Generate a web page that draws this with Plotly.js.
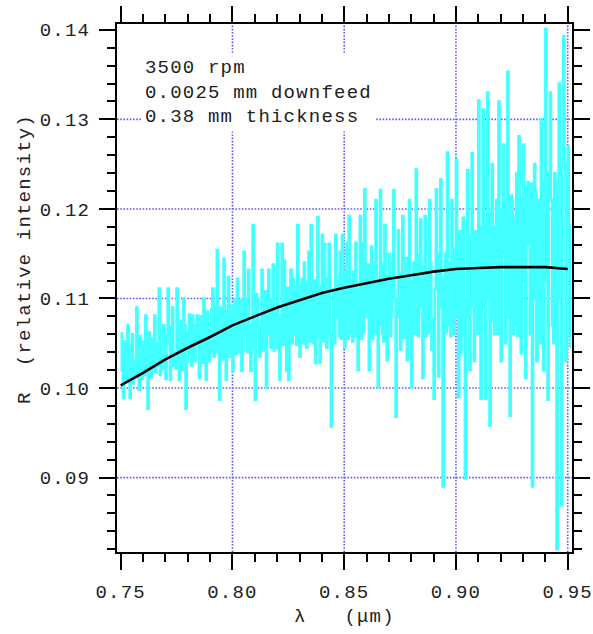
<!DOCTYPE html>
<html>
<head>
<meta charset="utf-8">
<script src="https://cdn.plot.ly/plotly-3.0.1.min.js"></script>
<style>
  html, body { margin: 0; padding: 0; background: #fff; }
  #chart { width: 593px; height: 634px; }
  text { letter-spacing: 1.2px; }
</style>
</head>
<body>
<div id="chart"></div>
<script>
// Measured spectrum: wavelength grid start/step (µm) and relative intensity values.
// measuredR: readings at wlStart + i*wlStep; measuredRMid: readings half a step later.
const wlStart = 0.750;
const wlStep = 0.001;
const measuredR = [
  0.1061, 0.0989, 0.1045, 0.1070, 0.0989, 0.1060, 0.1030, 0.1090, 0.0998, 0.1040,
  0.1052, 0.1081, 0.0977, 0.1030, 0.1055, 0.1081, 0.1050, 0.1111, 0.1047, 0.1070,
  0.1010, 0.1111, 0.1009, 0.1090, 0.1040, 0.1111, 0.1009, 0.1075, 0.1100, 0.0977,
  0.1061, 0.1040, 0.1081, 0.1030, 0.1081, 0.1011, 0.1060, 0.1100, 0.1009, 0.1065,
  0.1040, 0.1111, 0.1090, 0.1154, 0.0987, 0.1070, 0.1144, 0.1009, 0.1124, 0.1060,
  0.1019, 0.1099, 0.1122, 0.1040, 0.1019, 0.1152, 0.1060, 0.1132, 0.1019, 0.1182,
  0.0987, 0.1099, 0.1035, 0.1132, 0.1080, 0.1000, 0.1132, 0.1045, 0.1138, 0.1090,
  0.1161, 0.1009, 0.1161, 0.1142, 0.1019, 0.1009, 0.1132, 0.1122, 0.1060, 0.1182,
  0.1035, 0.1122, 0.1140, 0.1045, 0.1152, 0.1182, 0.1050, 0.1028, 0.1191, 0.1028,
  0.1171, 0.1161, 0.1045, 0.1161, 0.0957, 0.1110, 0.1171, 0.1080, 0.1152, 0.1171,
  0.1045,
  0.1162, 0.1192, 0.1061, 0.1130, 0.1162, 0.1020, 0.1192, 0.1162, 0.1222, 0.1080,
  0.1020, 0.1158, 0.1140, 0.1210, 0.1001, 0.1221, 0.1061, 0.1182, 0.1031, 0.1150,
  0.1080, 0.1221, 0.0968, 0.1176, 0.1043, 0.1192, 0.1100, 0.1031, 0.1210, 0.1001,
  0.1140, 0.1244, 0.1058, 0.1188, 0.1011, 0.1192, 0.1130, 0.1210, 0.1043, 0.0988,
  0.1222, 0.1013, 0.1233, 0.0890, 0.1150, 0.1263, 0.1140, 0.1210, 0.1060, 0.1255,
  0.0990,
  0.1039, 0.1190, 0.0899, 0.1243, 0.1020, 0.1262, 0.1030, 0.1171, 0.1321, 0.0988,
  0.1311, 0.0988, 0.1330, 0.0958, 0.1250, 0.1060, 0.1210, 0.1320, 0.1030, 0.1272,
  0.1050, 0.1353, 0.0969, 0.1210, 0.1070, 0.1240, 0.1281, 0.1039, 0.1272, 0.1011,
  0.1230, 0.1060, 0.0890, 0.1250, 0.1030, 0.1210, 0.1300, 0.1020, 0.1401, 0.0987,
  0.1330, 0.1070, 0.1240, 0.0820, 0.1340, 0.0869, 0.1393, 0.1030, 0.1270, 0.1045
];
const measuredRMid = [
  0.1020, 0.1052, 0.1008, 0.1035, 0.1048, 0.1005, 0.1012, 0.1040, 0.1058, 0.1010,
  0.1015, 0.1040, 0.1062, 0.1012, 0.1020, 0.1018, 0.1025, 0.1015, 0.1022, 0.1060,
  0.1050, 0.1068, 0.1062, 0.1025, 0.1022, 0.1065, 0.1045, 0.1020, 0.1070, 0.1030,
  0.1082, 0.1025, 0.1055, 0.1070, 0.1050, 0.1080, 0.1028, 0.1062, 0.1085, 0.1030,
  0.1088, 0.1035, 0.1040, 0.1075, 0.1090, 0.1032, 0.1085, 0.1050, 0.1035, 0.1092,
  0.1060, 0.1038, 0.1090, 0.1098, 0.1042, 0.1100, 0.1040, 0.1070, 0.1045, 0.1095,
  0.1105, 0.1068, 0.1048, 0.1042, 0.1108, 0.1060, 0.1100, 0.1050, 0.1042, 0.1045,
  0.1080, 0.1060, 0.1048, 0.1110, 0.1112, 0.1068, 0.1050, 0.1112, 0.1048, 0.1115,
  0.1075, 0.1050, 0.1118, 0.1085, 0.1052, 0.1110, 0.1120, 0.1058, 0.1115, 0.1062,
  0.1052, 0.1100, 0.1122, 0.1060, 0.1055, 0.1050, 0.1120, 0.1058, 0.1055, 0.1110,
  0.1130, 0.1055, 0.1120, 0.1052, 0.1058, 0.1110, 0.1068, 0.1055, 0.1062, 0.1135,
  0.1138, 0.1090, 0.1055, 0.1060, 0.1120, 0.1070, 0.1138, 0.1052, 0.1125, 0.1065,
  0.1058, 0.1140, 0.1100, 0.1080, 0.1128, 0.1070, 0.1056, 0.1145, 0.1060, 0.1120,
  0.1080, 0.1060, 0.1148, 0.1090, 0.1135, 0.1075, 0.1058, 0.1062, 0.1140, 0.1078,
  0.1110, 0.1150, 0.1090, 0.1120, 0.1060, 0.1062, 0.1070, 0.1058, 0.1155, 0.1080,
  0.1120, 0.1175, 0.1060, 0.1100, 0.1080, 0.1170, 0.1090, 0.1150, 0.1175, 0.1060,
  0.1150, 0.1180, 0.1090, 0.1190, 0.1100, 0.1195, 0.1075, 0.1180, 0.1060, 0.1170,
  0.1200, 0.1150, 0.1210, 0.1080, 0.1215, 0.1060, 0.1190, 0.1058, 0.1150, 0.1210,
  0.1120, 0.1225, 0.1160, 0.1228, 0.1100, 0.1220, 0.1055, 0.1050, 0.1230, 0.1180,
  0.1120, 0.1240, 0.1210, 0.1050, 0.1180, 0.1230, 0.1100, 0.1245, 0.1250, 0.1060,
  0.1180
];
const specWl = [], specR = [];
measuredR.forEach((r, i) => {
  specWl.push(+(wlStart + i * wlStep).toFixed(4));
  specR.push(r);
  if (i < measuredRMid.length) {
    specWl.push(+(wlStart + (i + 0.5) * wlStep).toFixed(4));
    specR.push(measuredRMid[i]);
  }
});

// Smooth fit curve (black)
const fitWl = [0.75, 0.76, 0.77, 0.78, 0.79, 0.80, 0.81, 0.82, 0.83, 0.84, 0.85,
               0.86, 0.87, 0.88, 0.89, 0.90, 0.91, 0.92, 0.93, 0.94, 0.95];
const fitR  = [0.1003, 0.1017, 0.1032, 0.1045, 0.1057, 0.1070, 0.1080, 0.1090, 0.1098, 0.1106, 0.1112,
               0.1117, 0.1122, 0.1126, 0.1130, 0.1133, 0.1134, 0.1135, 0.1135, 0.1135, 0.1133];

// Tick values and the ticks that carry a grid line
const xTicks = [0.75, 0.80, 0.85, 0.90, 0.95];
const yTicks = [0.09, 0.10, 0.11, 0.12, 0.13, 0.14];
const xGrid = [0.80, 0.85, 0.90, 0.95];
const yGrid = [0.09, 0.10, 0.11, 0.12, 0.13];

// Texts
const noteLines = ['3500 rpm', '0.0025 mm downfeed', '0.38 mm thickness'];
const xTitle = 'λ\u00a0\u00a0\u00a0(μm)';
const yTitle = 'R\u00a0\u00a0(relative intensity)';

const FONT = 'Liberation Mono, Courier New, monospace';
const gridColor = '#5c5cff';
const gridLine = {color: gridColor, width: 1.6, dash: '1.6px,1.6px'};

const traces = [
  {
    x: specWl, y: specR, type: 'scatter', mode: 'lines',
    line: {color: '#44ffff', width: 2.6, shape: 'hv', simplify: false},
    hoverinfo: 'skip', showlegend: false
  },
  {
    x: fitWl, y: fitR, type: 'scatter', mode: 'lines',
    line: {color: '#000000', width: 2.6, simplify: false},
    hoverinfo: 'skip', showlegend: false
  }
];

const shapes = [];
xGrid.forEach(v => shapes.push({type: 'line', layer: 'below', xref: 'x', yref: 'paper',
  x0: v, x1: v, y0: 0, y1: 1, line: gridLine}));
yGrid.forEach(v => shapes.push({type: 'line', layer: 'below', xref: 'paper', yref: 'y',
  x0: 0, x1: 1, y0: v, y1: v, line: gridLine}));

const axisCommon = {
  showline: true, linecolor: '#000', linewidth: 2,
  mirror: 'ticks', ticks: 'outside', ticklen: 16, tickwidth: 2, tickcolor: '#000',
  showgrid: false, zeroline: false, tickformat: '.2f',
  tickfont: {family: FONT, size: 19, color: '#222'},
  ticklabelstandoff: 5
};

const layout = {
  width: 593, height: 634,
  margin: {l: 117, r: 21, t: 24, b: 82, pad: 0},
  paper_bgcolor: '#fff', plot_bgcolor: '#fff',
  showlegend: false,
  shapes: shapes,
  xaxis: Object.assign({}, axisCommon, {
    range: [0.74834, 0.95192], tickvals: xTicks,
    minor: {dtick: 0.01, ticks: 'outside', ticklen: 8, tickwidth: 2, tickcolor: '#000', showgrid: false}
  }),
  yaxis: Object.assign({}, axisCommon, {
    range: [0.08169, 0.14065], tickvals: yTicks,
    minor: {dtick: 0.002, ticks: 'outside', ticklen: 8, tickwidth: 2, tickcolor: '#000', showgrid: false}
  }),
  annotations: [
    {
      xref: 'paper', yref: 'paper', x: 0.0527, y: 0.945,
      xanchor: 'left', yanchor: 'top', align: 'left',
      text: noteLines.join('<br>'), showarrow: false,
      bgcolor: '#ffffff', borderpad: 3,
      font: {family: FONT, size: 19, color: '#222'}
    },
    {
      xref: 'paper', yref: 'paper', x: 0.501, y: -0.1231,
      xanchor: 'center', yanchor: 'middle',
      text: xTitle, showarrow: false,
      font: {family: FONT, size: 19, color: '#222'}
    },
    {
      xref: 'paper', yref: 'paper', x: -0.2022, y: 0.5549,
      xanchor: 'center', yanchor: 'middle', textangle: -90,
      text: yTitle, showarrow: false,
      font: {family: FONT, size: 19, color: '#222'}
    }
  ]
};

Plotly.newPlot('chart', traces, layout, {displayModeBar: false, staticPlot: true});
</script>
</body>
</html>
